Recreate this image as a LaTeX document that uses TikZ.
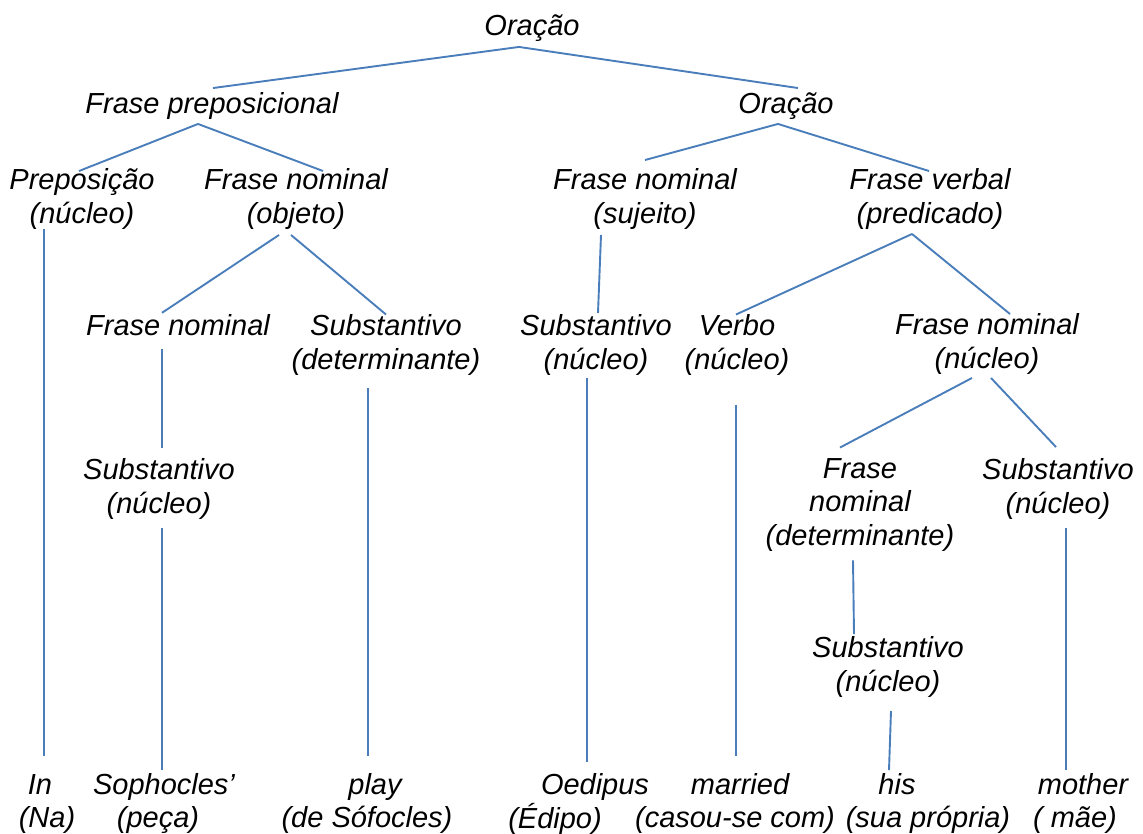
\documentclass[tikz,border=0pt]{standalone}
\usepackage{fontspec}
\setmainfont{Liberation Sans}
\usetikzlibrary{calc}
\definecolor{branch}{RGB}{74,126,187}
\newcommand{\lblfont}{\fontsize{29}{33.5}\selectfont\itshape}
\begin{document}
\begin{tikzpicture}[x=1pt,y=-1pt,
  lbl/.style={align=center, inner sep=0pt, font=\lblfont,
    execute at begin node={\strut}, execute at end node={\strut}},
  edge/.style={draw=branch, line width=1.9pt}]
\useasboundingbox (0,0) rectangle (1143,834);

% phrase structure nodes
\node[lbl] (top)   at (532,29)  {Oração};
\node[lbl] (fp)    at (212,107) {Frase preposicional};
\node[lbl] (or2)   at (786,107) {Oração};
\node[lbl] (prep)  at (82,201)  {Preposição\\(núcleo)};
\node[lbl] (fno)   at (296,201) {Frase nominal\\(objeto)};
\node[lbl] (fns)   at (645,201) {Frase nominal\\(sujeito)};
\node[lbl] (fv)    at (930,201) {Frase verbal\\(predicado)};
\node[lbl] (fn2)   at (178,329) {Frase nominal};
\node[lbl] (sdet)  at (386,347) {Substantivo\\(determinante)};
\node[lbl] (snuc1) at (596,347) {Substantivo\\(núcleo)};
\node[lbl] (verbo) at (737,347) {Verbo\\(núcleo)};
\node[lbl] (fnn)   at (987,346) {Frase nominal\\(núcleo)};
\node[lbl] (snuc2) at (159,491) {Substantivo\\(núcleo)};
\node[lbl] (fndet) at (860,507) {Frase\\nominal\\(determinante)};
\node[lbl] (snuc3) at (1058,491) {Substantivo\\(núcleo)};
\node[lbl] (snuc4) at (888,669) {Substantivo\\(núcleo)};

% words and their glosses
\node[lbl] (w-in)   at (40,788)   {In};
\node[lbl] (g-in)   at (47,821)   {(Na)};
\node[lbl] (w-soph) at (164,788)  {Sophocles’};
\node[lbl] (g-soph) at (158,821)  {(peça)};
\node[lbl] (w-play) at (375,788)  {play};
\node[lbl] (g-play) at (367,821)  {(de Sófocles)};
\node[lbl] (w-oed)  at (595,788)  {Oedipus};
\node[lbl] (g-oed)  at (555,821)  {(Édipo)};
\node[lbl] (w-mar)  at (740,788)  {married};
\node[lbl] (g-mar)  at (735,821)  {(casou-se com)};
\node[lbl] (w-his)  at (897,788)  {his};
\node[lbl] (g-his)  at (928,821)  {(sua própria)};
\node[lbl] (w-mot)  at (1083,788) {mother};
\node[lbl] (g-mot)  at (1075,821) {( mãe)};

% branches
\draw[edge] ($(top.south)+(-13,1)$) -- ($(fp.north)+(1,-2)$);
\draw[edge] ($(top.south)+(-13,1)$) -- ($(or2.north)+(12,-2)$);
\draw[edge] ($(fp.south)+(-14,0)$) -- ($(prep.north)+(-3,2.5)$);
\draw[edge] ($(fp.south)+(-14,0)$) -- ($(fno.north)+(27,2.5)$);
\draw[edge] ($(or2.south)+(-8,0)$) -- ($(fns.north)+(0,-8.5)$);
\draw[edge] ($(or2.south)+(-8,0)$) -- ($(fv.north)+(-1,2.5)$);
\draw[edge] ($(prep.south)+(-38,-4.5)$) -- ($(w-in.north)+(4,-15)$);
\draw[edge] ($(fno.south)+(-17,1.5)$) -- ($(fn2.north)+(-16,0.75)$);
\draw[edge] ($(fno.south)+(-5,1.5)$) -- ($(sdet.north)+(0,0)$);
\draw[edge] ($(fns.south)+(-44,1.5)$) -- ($(snuc1.north)+(2,-1.5)$);
\draw[edge] ($(fv.south)+(-18,0.5)$) -- ($(verbo.north)+(-1,0)$);
\draw[edge] ($(fv.south)+(-18,0.5)$) -- ($(fnn.north)+(23,0.5)$);
\draw[edge] ($(fn2.south)+(-16,3)$) -- ($(snuc2.north)+(3,-10.5)$);
\draw[edge] ($(snuc2.south)+(3,4.5)$) -- ($(w-soph.north)+(-2,-1)$);
\draw[edge] ($(sdet.south)+(-18,8.5)$) -- ($(w-play.north)+(-7,-15)$);
\draw[edge] ($(snuc1.south)+(-9,-1.5)$) -- ($(w-oed.north)+(-8,-9)$);
\draw[edge] ($(verbo.south)+(-1,25.5)$) -- ($(w-mar.north)+(-4,-15)$);
\draw[edge] ($(fnn.south)+(-15,-0.5)$) -- ($(fndet.north)+(-20,-10.75)$);
\draw[edge] ($(fnn.south)+(4,-0.5)$) -- ($(snuc3.north)+(-2,-11.5)$);
\draw[edge] ($(fndet.south)+(-7,4.75)$) -- ($(snuc4.north)+(-34,-2.5)$);
\draw[edge] ($(snuc4.south)+(3,9.5)$) -- ($(w-his.north)+(-8,-1)$);
\draw[edge] ($(snuc3.south)+(8,4.5)$) -- ($(w-mot.north)+(-17,-1)$);
\end{tikzpicture}
\end{document}
